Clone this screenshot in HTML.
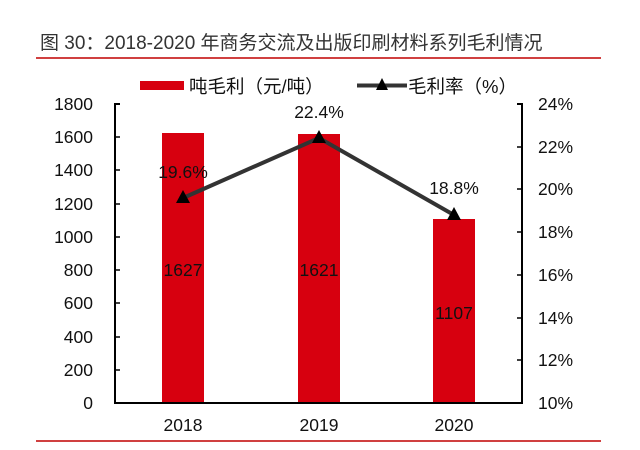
<!DOCTYPE html><html><head><meta charset="utf-8"><style>body{margin:0;background:#fff}</style></head><body>
<svg width="640" height="445" xmlns="http://www.w3.org/2000/svg" font-family="'Liberation Sans','Noto Sans CJK SC',sans-serif">
<text x="40" y="49" font-size="19" fill="#333">图 30：2018-2020 年商务交流及出版印刷材料系列毛利情况</text>
<line x1="36" y1="58" x2="601" y2="58" stroke="#c00000" stroke-width="1.5"/>
<line x1="36" y1="441" x2="601" y2="441" stroke="#c00000" stroke-width="1.5"/>
<rect x="140" y="81" width="44" height="9" fill="#d7000f"/>
<text x="189" y="93" font-size="18.5" fill="#111">吨毛利（元/吨）</text>
<line x1="357" y1="85.5" x2="407" y2="85.5" stroke="#333" stroke-width="4"/>
<polygon points="382,78 376,90 388,90" fill="#000"/>
<text x="408" y="93" font-size="18.5" fill="#111">毛利率（%）</text>
<g fill="#d7000f"><rect x="162" y="133" width="42" height="270"/><rect x="298" y="134" width="42" height="269"/><rect x="433" y="219" width="42" height="184"/></g>
<g stroke="#000" stroke-width="2" fill="none"><polyline points="120,104 115,104 115,403 522,403 522,104 517,104"/></g>
<g stroke="#000" stroke-width="1.5">
<line x1="115" y1="137" x2="120" y2="137"/><line x1="115" y1="170" x2="120" y2="170"/><line x1="115" y1="204" x2="120" y2="204"/><line x1="115" y1="237" x2="120" y2="237"/><line x1="115" y1="270" x2="120" y2="270"/><line x1="115" y1="303" x2="120" y2="303"/><line x1="115" y1="337" x2="120" y2="337"/><line x1="115" y1="370" x2="120" y2="370"/>
<line x1="517" y1="147" x2="522" y2="147"/><line x1="517" y1="189" x2="522" y2="189"/><line x1="517" y1="232" x2="522" y2="232"/><line x1="517" y1="275" x2="522" y2="275"/><line x1="517" y1="318" x2="522" y2="318"/><line x1="517" y1="360" x2="522" y2="360"/>
</g>
<g font-size="17.5" fill="#111" text-anchor="end">
<text x="93" y="110">1800</text><text x="93" y="143">1600</text><text x="93" y="176">1400</text><text x="93" y="210">1200</text><text x="93" y="243">1000</text><text x="93" y="276">800</text><text x="93" y="309">600</text><text x="93" y="343">400</text><text x="93" y="376">200</text><text x="93" y="409">0</text>
</g>
<g font-size="17.5" fill="#111">
<text x="538" y="110">24%</text><text x="538" y="153">22%</text><text x="538" y="195">20%</text><text x="538" y="238">18%</text><text x="538" y="281">16%</text><text x="538" y="324">14%</text><text x="538" y="366">12%</text><text x="538" y="409">10%</text>
</g>
<g font-size="17.5" fill="#111" text-anchor="middle">
<text x="183" y="431">2018</text><text x="319" y="431">2019</text><text x="454" y="431">2020</text>
<text x="183" y="276">1627</text><text x="319" y="276">1621</text><text x="454" y="319">1107</text>
<text x="183" y="178">19.6%</text><text x="319" y="118">22.4%</text><text x="454" y="194">18.8%</text>
</g>
<polyline points="183,198 319,138 454,215" fill="none" stroke="#333" stroke-width="4"/>
<g fill="#000"><polygon points="183,190 176,203 190,203"/><polygon points="319,130 312,143 326,143"/><polygon points="454,207 447,220 461,220"/></g>
</svg></body></html>
